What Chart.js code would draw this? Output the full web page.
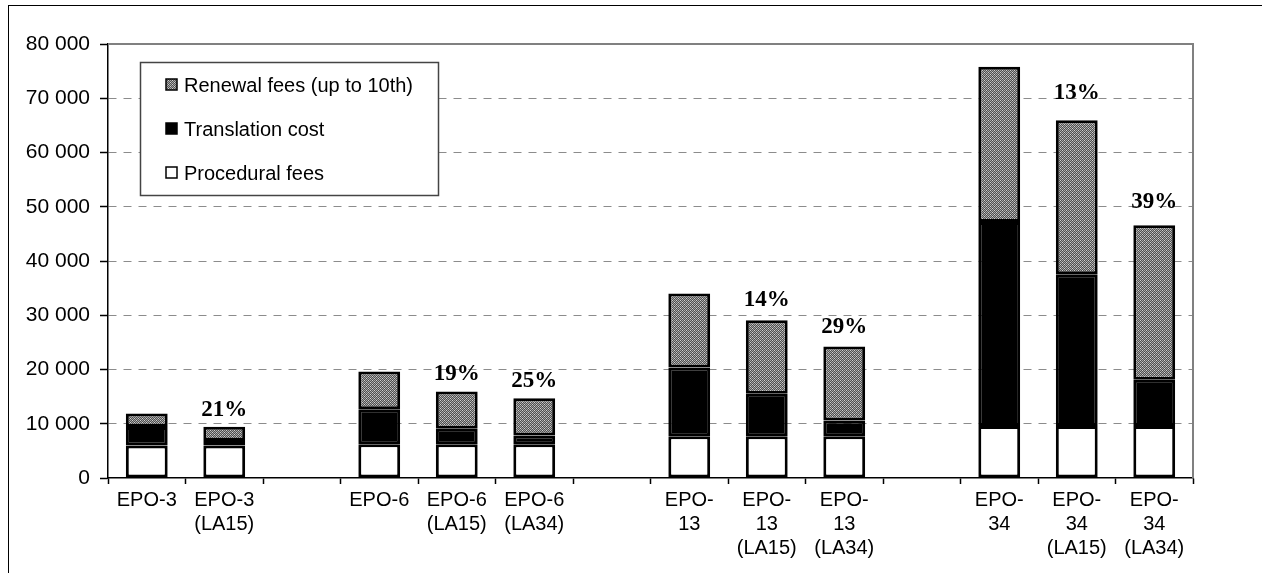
<!DOCTYPE html>
<html>
<head>
<meta charset="utf-8">
<script src="https://cdn.jsdelivr.net/npm/chart.js@4/dist/chart.umd.min.js"></script>
<style>
  html, body { margin: 0; padding: 0; background: #fff; overflow: hidden; }
  #frame { position: absolute; left: 8px; top: 5px; width: 1400px; height: 800px; border: 1px solid #000; pointer-events: none; }
  canvas { position: absolute; left: 0; top: 0; }
</style>
</head>
<body>
<canvas id="costChart" width="1262" height="573"></canvas>
<div id="frame"></div>
<script>
// chart data (EUR)
const categories = [
  ["EPO-3"], ["EPO-3", "(LA15)"], "",
  ["EPO-6"], ["EPO-6", "(LA15)"], ["EPO-6", "(LA34)"], "",
  ["EPO-", "13"], ["EPO-", "13", "(LA15)"], ["EPO-", "13", "(LA34)"], "",
  ["EPO-", "34"], ["EPO-", "34", "(LA15)"], ["EPO-", "34", "(LA34)"]
];
const proceduralFees = [6000, 6000, null, 6200, 6200, 6200, null, 7700, 7700, 7700, null, 9600, 9600, 9600];
const translationCost = [3400, 800, null, 6450, 2900, 1650, null, 12650, 7850, 2900, null, 37600, 27950, 8500];
const renewalFees = [2500, 2650, null, 7000, 6850, 6850, null, 13650, 13550, 13650, null, 28600, 28400, 28500];
const savingLabels = ["", "21%", "", "", "19%", "25%", "", "", "14%", "29%", "", "", "13%", "39%"];
const yTicks = [0, 10000, 20000, 30000, 40000, 50000, 60000, 70000, 80000];

// hatched fill for the renewal fees
function makeHatch() {
  const c = document.createElement("canvas");
  c.width = 4; c.height = 4;
  const g = c.getContext("2d");
  g.fillStyle = "#a6a6a6";
  g.fillRect(0, 0, 4, 4);
  g.fillStyle = "#505050";
  for (let i = 0; i < 4; i++) {
    g.fillRect(i, 3 - i, 1, 1);
    g.fillRect(i, (5 - i) % 4, 1, 1);
  }
  g.fillStyle = "#d0d0d0";
  g.fillRect(0, 0, 1, 1);
  g.fillRect(2, 2, 1, 1);
  return g.createPattern(c, "repeat");
}
const hatch = makeHatch();

function spaced(v) {
  return String(v).replace(/\B(?=(\d{3})+(?!\d))/g, " ");
}

// grey frame round the plot area (top + right)
const plotFrame = {
  id: "plotFrame",
  afterDraw(chart) {
    const a = chart.chartArea, ctx = chart.ctx;
    ctx.save();
    ctx.strokeStyle = "#808080";
    ctx.lineWidth = 2;
    ctx.beginPath();
    ctx.moveTo(a.left, a.top);
    ctx.lineTo(a.right, a.top);
    ctx.lineTo(a.right, a.bottom);
    ctx.stroke();
    ctx.restore();
  }
};

// percentage labels over the bars
const savings = {
  id: "savings",
  afterDatasetsDraw(chart) {
    const ctx = chart.ctx;
    const y = chart.scales.y;
    const meta = chart.getDatasetMeta(chart.data.datasets.length - 1);
    ctx.save();
    ctx.font = "bold 23px 'Liberation Serif', 'Times New Roman', serif";
    ctx.fillStyle = "#000";
    ctx.textAlign = "center";
    ctx.textBaseline = "bottom";
    savingLabels.forEach((txt, i) => {
      if (!txt) return;
      const total = proceduralFees[i] + translationCost[i] + renewalFees[i];
      ctx.fillText(txt, meta.data[i].x, y.getPixelForValue(total * 1.035) - 3);
    });
    ctx.restore();
  }
};

// legend box inside the plot
const boxLegend = {
  id: "boxLegend",
  afterDraw(chart) {
    const ctx = chart.ctx;
    const sets = chart.data.datasets.slice().reverse();
    ctx.save();
    ctx.fillStyle = "#fff";
    ctx.fillRect(140, 62, 298, 133);
    ctx.strokeStyle = "#444";
    ctx.lineWidth = 1.5;
    ctx.strokeRect(140.5, 62.5, 298, 133);
    ctx.font = "20px 'Liberation Sans', Arial, sans-serif";
    ctx.textBaseline = "middle";
    sets.forEach((ds, k) => {
      const cy = 85 + k * 44;
      ctx.fillStyle = ds.backgroundColor;
      ctx.fillRect(166, cy - 6, 11, 11);
      ctx.strokeStyle = "#000";
      ctx.lineWidth = 1.5;
      ctx.strokeRect(166, cy - 6, 11, 11);
      ctx.fillStyle = "#000";
      ctx.fillText(ds.label, 184, cy + 1);
    });
    ctx.restore();
  }
};

const ctx = document.getElementById("costChart").getContext("2d");
new Chart(ctx, {
  type: "bar",
  data: {
    labels: categories,
    datasets: [
      { label: "Procedural fees", data: proceduralFees, backgroundColor: "#ffffff" },
      { label: "Translation cost", data: translationCost, backgroundColor: "#000000" },
      { label: "Renewal fees (up to 10th)", data: renewalFees, backgroundColor: hatch }
    ]
  },
  options: {
    responsive: false,
    animation: false,
    layout: { padding: { top: 44, right: 69, left: 0, bottom: 0 } },
    datasets: {
      bar: {
        borderColor: "#000",
        borderWidth: 3,
        borderSkipped: false,
        barPercentage: 0.54,
        categoryPercentage: 1
      }
    },
    plugins: {
      legend: { display: false },
      tooltip: { enabled: false }
    },
    scales: {
      x: {
        stacked: true,
        grid: { offset: true, drawOnChartArea: false, tickLength: 6, tickColor: "#000", tickWidth: 1.5 },
        border: { color: "#000", width: 1.5 },
        ticks: {
          color: "#000",
          font: { family: "'Liberation Sans', Arial, sans-serif", size: 20, lineHeight: 1.2 },
          padding: 4,
          maxRotation: 0,
          autoSkip: false
        },
        afterFit: s => { s.height = 95; }
      },
      y: {
        stacked: true,
        min: 0,
        max: 80000,
        afterBuildTicks: s => { s.ticks = yTicks.map(v => ({ value: v })); },
        grid: {
          color: c => (c.tick && c.tick.value === 0 ? "rgba(0,0,0,0)" : "#8c8c8c"),
          tickColor: "#000",
          tickLength: 8,
          tickBorderDash: [],
          tickWidth: 1.5
        },
        border: { color: "#000", width: 1.5, dash: [8, 7] },
        ticks: {
          color: "#000",
          font: { family: "'Liberation Sans', Arial, sans-serif", size: 21 },
          padding: 10,
          callback: v => spaced(v)
        },
        afterFit: s => { s.width = 108; }
      }
    }
  },
  plugins: [plotFrame, savings, boxLegend]
});
</script>
</body>
</html>
